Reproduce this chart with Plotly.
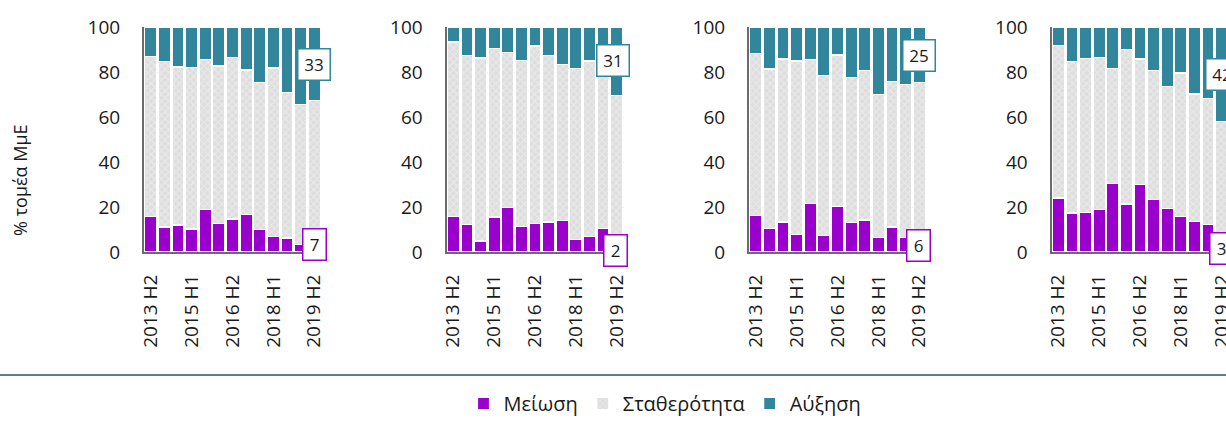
import plotly.graph_objects as go

cats = ["2013 H2", "2014 H1", "2014 H2", "2015 H1", "2015 H2", "2016 H1", "2016 H2",
        "2017 H1", "2017 H2", "2018 H1", "2018 H2", "2019 H1", "2019 H2"]
tick_cats = ["2013 H2", "2015 H1", "2016 H2", "2018 H1", "2019 H2"]
series_names = ["Μείωση", "Σταθερότητα", "Αύξηση"]

dec1 = [15.9, 11.1, 12.0, 10.2, 19.0, 12.7, 14.7, 16.7, 9.9, 6.8, 6.2, 3.4, 7.0]
stab1 = [70.9, 73.6, 70.2, 71.9, 66.6, 70.0, 71.8, 64.2, 65.4, 75.0, 64.6, 62.2, 60.4]
inc1 = [13.2, 15.3, 17.8, 17.9, 14.4, 17.3, 13.5, 19.1, 24.7, 18.2, 29.2, 34.4, 32.6]

dec2 = [15.9, 12.4, 4.9, 15.6, 19.9, 11.3, 12.7, 13.3, 14.1, 5.6, 6.8, 10.4, 2.0]
stab2 = [77.4, 75.0, 81.3, 74.8, 68.8, 73.7, 78.9, 74.0, 69.3, 75.9, 78.1, 74.6, 67.4]
inc2 = [6.7, 12.6, 13.8, 9.6, 11.3, 15.0, 8.4, 12.7, 16.6, 18.5, 15.1, 15.0, 30.6]

dec3 = [16.3, 10.5, 13.3, 7.7, 21.6, 7.4, 20.4, 13.0, 14.2, 6.4, 11.1, 6.4, 6.0]
stab3 = [72.1, 70.8, 72.5, 77.2, 63.9, 71.0, 67.2, 64.6, 66.5, 63.5, 64.6, 68.1, 69.4]
inc3 = [11.6, 18.7, 14.2, 15.1, 14.5, 21.6, 12.4, 22.4, 19.3, 30.1, 24.3, 25.5, 24.6]

dec4 = [24.0, 17.3, 17.5, 19.0, 30.5, 21.3, 29.9, 23.3, 19.4, 15.7, 13.5, 12.4, 3.0]
stab4 = [67.7, 67.4, 68.4, 67.5, 51.0, 68.8, 55.9, 57.4, 54.1, 63.9, 56.7, 56.0, 54.9]
inc4 = [8.3, 15.3, 14.1, 13.5, 18.5, 9.9, 14.2, 19.3, 26.5, 20.4, 29.8, 31.6, 42.1]

panels = [(dec1, stab1, inc1), (dec2, stab2, inc2), (dec3, stab3, inc3), (dec4, stab4, inc4)]

# layout helpers (pixels)
W, H = 1226, 423
TOP, BOT = 27, 252
PURPLE = "#9900CC"
TEAL = "#31869B"
FONT = "Open Sans"
x_px = [(144, 321), (446.5, 623.5), (749, 926), (1051.5, 1226)]
slot = (321 - 144) / 13.0
inc_label_y = [83.5, 84.9, 87.5, 79.0]
dec_label_y = [3.5, 0.8, 2.8, 1.5]
inc_label_dx = [0, -4, 0, 0]
dec_label_dx = [0, -1, -1, 0]

def py(px):
    return (BOT - px) / (BOT - TOP)

fig = go.Figure()
for i, (d, s, c) in enumerate(panels):
    xa = "x" if i == 0 else f"x{i+1}"
    ya = "y" if i == 0 else f"y{i+1}"
    common = dict(x=cats, xaxis=xa, yaxis=ya, showlegend=(i == 0), hoverinfo="skip")
    fig.add_trace(go.Bar(y=d, name=series_names[0], legendgroup="d",
                         marker=dict(color=PURPLE, line=dict(color="white", width=1.2)),
                         **common))
    fig.add_trace(go.Bar(y=s, name=series_names[1], legendgroup="s",
                         marker=dict(color="#d9d9d9", line=dict(color="white", width=1.2),
                                     pattern=dict(shape="x", fgcolor="#f6f6f6", bgcolor="#dedede",
                                                  size=5, solidity=0.35, fillmode="overlay")),
                         **common))
    fig.add_trace(go.Bar(y=c, name=series_names[2], legendgroup="c",
                         marker=dict(color=TEAL, line=dict(color="white", width=1.2)),
                         **common))

layout = dict(
    width=W, height=H, barmode="stack", bargap=0.12,
    margin=dict(l=0, r=0, t=TOP, b=H - BOT, pad=0),
    paper_bgcolor="white", plot_bgcolor="white",
    font=dict(family=FONT, size=19, color="#1a1a1a"),
    legend=dict(orientation="h", x=665 / W, xanchor="center", y=py(423), yanchor="bottom",
                font=dict(size=20, color="#1a1a1a"), traceorder="normal",
                itemwidth=30, bgcolor="rgba(0,0,0,0)"),
)
annotations = []
for i in range(4):
    xk = "xaxis" if i == 0 else f"xaxis{i+1}"
    yk = "yaxis" if i == 0 else f"yaxis{i+1}"
    xa = "x" if i == 0 else f"x{i+1}"
    ya = "y" if i == 0 else f"y{i+1}"
    x0, x1 = x_px[i]
    rng_hi = -0.5 + (x1 - x0) / slot
    layout[xk] = dict(domain=[x0 / W, x1 / W], anchor=ya, type="category", automargin=False,
                      range=[-0.5, rng_hi], tickmode="array", tickvals=tick_cats,
                      ticktext=tick_cats, tickangle=-90, showline=True, linecolor="#6b6b6b",
                      linewidth=2, showgrid=False, ticks="", ticklabelstandoff=13,
                      tickfont=dict(size=19, color="#1a1a1a"), fixedrange=True)
    layout[yk] = dict(domain=[0, 1], anchor=xa, range=[0, 100], tickvals=[0, 20, 40, 60, 80, 100],
                      automargin=False, fixedrange=True,
                      showline=True, linecolor="#6b6b6b", linewidth=2, showgrid=True,
                      gridcolor="#efefef", gridwidth=1, ticks="", ticklabelstandoff=18,
                      tickfont=dict(size=19, color="#1a1a1a"), zeroline=False)
    d, s, c = panels[i]
    annotations.append(dict(x=cats[-1], y=inc_label_y[i], xref=xa, yref=ya,
                            text=str(round(c[-1])), showarrow=False, xshift=inc_label_dx[i],
                            bgcolor="white", bordercolor=TEAL, borderwidth=1.5, borderpad=2,
                            width=27, height=26, font=dict(size=17, color="#1a1a1a")))
    annotations.append(dict(x=cats[-1], y=dec_label_y[i], xref=xa, yref=ya,
                            text=str(round(d[-1])), showarrow=False, xshift=dec_label_dx[i],
                            bgcolor="white", bordercolor=PURPLE, borderwidth=1.5, borderpad=2,
                            width=18, height=26, font=dict(size=17, color="#1a1a1a")))

annotations.append(dict(x=20 / W, y=py(180), xref="paper", yref="paper", text="% τομέα ΜμΕ",
                        xanchor="center", yanchor="middle",
                        textangle=-90, showarrow=False, font=dict(size=18, color="#1a1a1a")))
layout["annotations"] = annotations
layout["shapes"] = [dict(type="line", xref="paper", yref="paper", x0=0, x1=1,
                         y0=py(375), y1=py(375), line=dict(color="#2f4f5a", width=1.5))]

fig.update_layout(**layout)
fig.write_html("out.html", config={"displayModeBar": False, "staticPlot": True},
               post_script="document.body.style.margin='0';document.body.style.overflow='hidden';")
